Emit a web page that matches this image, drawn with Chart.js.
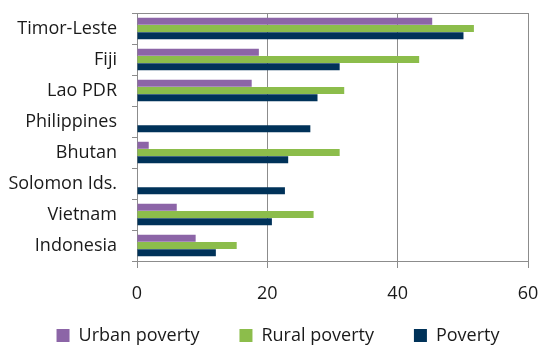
<!DOCTYPE html>
<html>
<head>
<meta charset="utf-8">
<script src="https://cdn.jsdelivr.net/npm/chart.js@4.4.0/dist/chart.umd.min.js"></script>
<style>
  html, body { margin: 0; padding: 0; background: #fff; }
  #wrap { width: 538px; height: 345px; position: relative; }
</style>
</head>
<body>
<div id="wrap"><canvas id="myChart"></canvas></div>
<script>
const countries = ["Timor-Leste", "Fiji", "Lao PDR", "Philippines", "Bhutan", "Solomon Ids.", "Vietnam", "Indonesia"];
const urbanPoverty = [45.3, 18.7, 17.6, null, 1.8, null, 6.1, 9.0];
const ruralPoverty = [51.7, 43.3, 31.8, null, 31.1, null, 27.1, 15.3];
const poverty = [50.1, 31.1, 27.7, 26.6, 23.2, 22.7, 20.7, 12.1];
const xTicks = [0, 20, 40, 60];

const gridGray = "#8c8c8c";
const textColor = "#1a1a1a";
const labelFont = { family: "Open Sans", size: 18 };

// top edge of the plot frame
const frameTop = {
  id: "frameTop",
  afterDraw(chart) {
    const { ctx, chartArea } = chart;
    ctx.save();
    ctx.strokeStyle = gridGray;
    ctx.lineWidth = 1;
    ctx.beginPath();
    ctx.moveTo(chartArea.left, chartArea.top + 0.5);
    ctx.lineTo(chartArea.right, chartArea.top + 0.5);
    ctx.stroke();
    ctx.restore();
  },
};

// legend padding is wide for item spacing, so pin its box height
// and move the row to where it should sit
const legendBox = {
  id: "legendBox",
  beforeInit(chart) {
    const fit = chart.legend.fit;
    chart.legend.fit = function () {
      fit.bind(chart.legend)();
      this.height = 40;
    };
  },
  afterLayout(chart) {
    const legend = chart.legend;
    const pad = legend.options.labels.padding;
    legend.top = 326.5 - pad;
    legend.left += 14;
    legend.right += 14;
  },
};

const ctx = document.getElementById("myChart");
new Chart(ctx, {
  type: "bar",
  data: {
    labels: countries,
    datasets: [
      { label: "Urban poverty", data: urbanPoverty, backgroundColor: "#8c65a7" },
      { label: "Rural poverty", data: ruralPoverty, backgroundColor: "#8cbd4b" },
      { label: "Poverty", data: poverty, backgroundColor: "#003259" },
    ],
  },
  options: {
    indexAxis: "y",
    responsive: true,
    maintainAspectRatio: false,
    animation: false,
    datasets: {
      bar: { barPercentage: 0.97, categoryPercentage: 0.7 },
    },
    layout: { padding: { top: 13, right: 10, left: 0, bottom: 0 } },
    scales: {
      x: {
        min: 0,
        max: 60,
        afterBuildTicks(axis) {
          axis.ticks = xTicks.map((v) => ({ value: v }));
        },
        afterFit(axis) {
          axis.height = 44;
          axis.paddingLeft = 0;
          axis.paddingRight = 0;
        },
        grid: { color: gridGray, tickColor: gridGray, tickLength: 7 },
        border: { color: gridGray },
        ticks: { color: textColor, font: labelFont, padding: 15 },
      },
      y: {
        afterFit(axis) {
          axis.width = 137;
          axis.paddingTop = 0;
          axis.paddingBottom = 0;
        },
        grid: { drawOnChartArea: false, tickColor: gridGray, tickLength: 5 },
        border: { color: gridGray, width: 1 },
        ticks: { color: textColor, font: labelFont, padding: 15 },
      },
    },
    plugins: {
      legend: {
        position: "bottom",
        labels: {
          color: textColor,
          font: labelFont,
          boxWidth: 13,
          boxHeight: 13,
          padding: 40,
        },
      },
      tooltip: { enabled: false },
    },
  },
  plugins: [frameTop, legendBox],
});
</script>
</body>
</html>
